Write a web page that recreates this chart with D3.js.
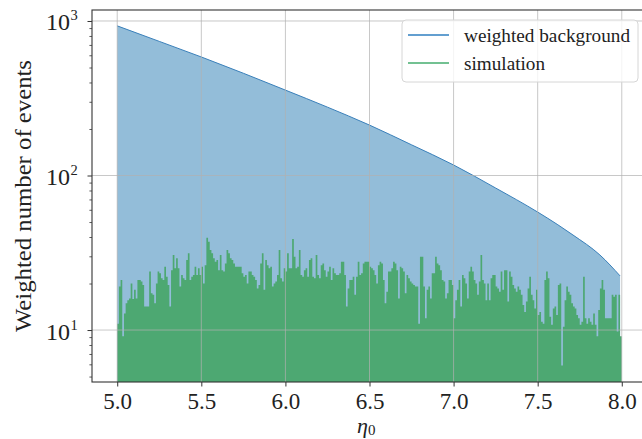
<!DOCTYPE html>
<html>
<head>
<meta charset="utf-8">
<script src="https://cdn.jsdelivr.net/npm/d3@7"></script>
<style>
  body { margin: 0; background: #ffffff; }
</style>
</head>
<body>
<svg id="chart" width="642" height="439"></svg>
<script>
// Histogram of simulated events: 300 equal bins between binStart and binEnd
const binStart = 5.0;
const binEnd = 8.0;
const simulationCounts = [
  11.0, 19.1, 21.1, 9.1, 12.8, 14.9, 15.6, 16.0, 20.0, 15.9,
  18.2, 16.0, 21.1, 21.1, 20.6, 19.6, 14.2, 14.2, 14.2, 23.9,
  17.3, 16.9, 14.9, 20.0, 23.9, 23.3, 21.6, 21.1, 25.7, 22.1,
  19.6, 14.2, 24.4, 30.6, 25.1, 29.1, 25.1, 19.1, 22.7, 21.6,
  21.1, 28.4, 31.4, 21.1, 22.1, 22.7, 25.7, 22.7, 25.1, 22.7,
  25.7, 20.0, 26.3, 39.6, 37.3, 32.9, 31.4, 29.1, 27.7, 28.4,
  24.4, 30.6, 24.4, 23.9, 27.0, 32.9, 31.4, 29.1, 28.4, 27.0,
  25.7, 25.7, 25.7, 25.7, 23.3, 22.1, 22.7, 20.0, 23.9, 23.9,
  22.7, 22.1, 21.1, 18.6, 19.6, 27.0, 31.4, 18.2, 28.4, 26.3,
  25.1, 25.7, 19.1, 20.0, 20.6, 22.7, 32.9, 21.6, 20.6, 25.1,
  23.9, 31.4, 25.1, 25.1, 38.8, 29.8, 25.1, 25.7, 32.9, 22.7,
  22.1, 24.4, 25.1, 22.1, 28.4, 29.1, 22.1, 21.6, 30.6, 22.7,
  21.6, 26.3, 27.0, 24.4, 22.1, 23.9, 25.7, 21.1, 25.1, 23.3,
  22.7, 22.7, 23.3, 27.7, 27.7, 22.7, 14.2, 18.6, 21.1, 21.1,
  22.1, 16.9, 22.1, 27.7, 22.7, 23.3, 27.0, 27.7, 27.7, 27.7,
  25.7, 25.1, 24.4, 22.7, 20.0, 26.3, 27.7, 27.0, 21.1, 14.9,
  17.7, 23.9, 23.9, 25.1, 27.7, 27.0, 24.4, 16.0, 25.7, 25.1,
  23.9, 17.3, 22.7, 21.6, 20.6, 20.0, 19.6, 19.1, 19.1, 11.0,
  29.8, 29.8, 19.1, 11.9, 18.2, 19.1, 16.0, 23.3, 23.3, 29.8,
  27.0, 26.3, 24.4, 21.1, 20.6, 16.0, 17.3, 21.1, 21.1, 19.6,
  11.9, 15.6, 18.2, 21.1, 14.2, 22.7, 21.6, 20.0, 16.0, 23.9,
  25.7, 23.9, 21.1, 20.0, 16.9, 20.6, 30.6, 21.1, 20.0, 15.6,
  20.0, 15.6, 21.6, 22.7, 22.7, 19.1, 18.6, 17.7, 23.9, 18.2,
  24.4, 24.4, 15.3, 23.9, 22.1, 19.6, 18.6, 17.7, 19.1, 18.2,
  16.9, 14.5, 13.1, 15.3, 18.6, 22.1, 16.9, 15.6, 13.8, 18.2,
  12.5, 13.1, 11.3, 11.0, 21.1, 23.9, 21.6, 12.2, 10.8, 13.8,
  14.2, 12.5, 19.6, 20.0, 5.9, 10.5, 15.6, 19.1, 17.7, 16.9,
  14.9, 14.2, 13.8, 12.5, 11.9, 10.8, 11.3, 22.1, 11.9, 11.0,
  11.9, 11.3, 10.8, 12.8, 10.8, 9.1, 13.5, 18.6, 21.1, 18.2,
  11.9, 11.9, 11.9, 11.9, 16.9, 16.4, 16.9, 9.8, 16.9, 9.1
];

// Weighted background expectation, sampled along eta_0
const backgroundEta = [5.0, 5.25, 5.5, 5.75, 6.0, 6.25, 6.5, 6.75, 7.0, 7.25, 7.5, 7.62, 7.71, 7.87, 7.99];
const backgroundWeights = [930, 738, 585, 459, 357, 277, 212, 158, 117, 83, 58, 48, 41.2, 30.6, 22.4];

const xTicks = [5.0, 5.5, 6.0, 6.5, 7.0, 7.5, 8.0];
const yTickExponents = [1, 2, 3];
const legendLabels = ["weighted background", "simulation"];

const colors = {
  backgroundFill: "#93bdd9",
  backgroundLine: "#3a80ba",
  backgroundLegend: "#2f7fc1",
  simulationFill: "#4da872",
  simulationLegend: "#44ad6e",
  grid: "#b0b0b0",
  spine: "#333333",
  text: "#222222"
};
const serif = '"Liberation Serif", "Times New Roman", serif';

const plot = { left: 92, right: 647, top: 10, bottom: 382 };

const svg = d3.select("#chart");

const x = d3.scaleLinear().domain([4.85, 8.15]).range([plot.left, plot.right]);
const y = d3.scaleLog().domain([4.61, 1178]).range([plot.bottom, plot.top]);

svg.append("defs").append("clipPath").attr("id", "plot-area")
  .append("rect")
  .attr("x", plot.left).attr("y", plot.top)
  .attr("width", plot.right - plot.left).attr("height", plot.bottom - plot.top);

const layer = svg.append("g").attr("clip-path", "url(#plot-area)");

// Background fill and its upper edge
const bgPoints = backgroundEta.map((e, i) => ({ eta: e, w: backgroundWeights[i] }));
layer.append("path")
  .datum(bgPoints)
  .attr("fill", colors.backgroundFill)
  .attr("d", d3.area()
    .x(d => x(d.eta))
    .y0(plot.bottom)
    .y1(d => y(d.w))
    .curve(d3.curveMonotoneX));
layer.append("path")
  .datum(bgPoints)
  .attr("fill", "none")
  .attr("stroke", colors.backgroundLine)
  .attr("stroke-width", 1)
  .attr("d", d3.line()
    .x(d => x(d.eta))
    .y(d => y(d.w))
    .curve(d3.curveMonotoneX));

// Simulation histogram drawn as a filled step outline
const nBins = simulationCounts.length;
const binWidth = (binEnd - binStart) / nBins;
const steps = simulationCounts.map((c, i) => ({ edge: binStart + i * binWidth, c }));
steps.push({ edge: binEnd, c: simulationCounts[nBins - 1] });
layer.append("path")
  .datum(steps)
  .attr("fill", colors.simulationFill)
  .attr("d", d3.area()
    .x(d => x(d.edge))
    .y0(plot.bottom)
    .y1(d => y(d.c))
    .curve(d3.curveStepAfter));

// Grid lines on top of the marks
const grid = svg.append("g").attr("stroke", colors.grid).attr("stroke-opacity", 0.7).attr("stroke-width", 1);
grid.selectAll("line.vx").data(xTicks).join("line")
  .attr("x1", d => x(d)).attr("x2", d => x(d))
  .attr("y1", plot.top).attr("y2", plot.bottom);
grid.selectAll("line.hy").data(yTickExponents).join("line")
  .attr("x1", plot.left).attr("x2", plot.right)
  .attr("y1", d => y(Math.pow(10, d))).attr("y2", d => y(Math.pow(10, d)));

// Frame
svg.append("rect")
  .attr("x", plot.left).attr("y", plot.top)
  .attr("width", plot.right - plot.left).attr("height", plot.bottom - plot.top)
  .attr("fill", "none").attr("stroke", colors.spine).attr("stroke-width", 1.1);

// X axis
const xAxis = svg.append("g")
  .attr("transform", `translate(0,${plot.bottom})`)
  .call(d3.axisBottom(x).tickValues(xTicks).tickFormat(d3.format(".1f")).tickSize(4.5).tickPadding(6).tickSizeOuter(0));
xAxis.select(".domain").remove();
xAxis.selectAll(".tick line").attr("stroke", colors.spine).attr("stroke-width", 1);
xAxis.selectAll(".tick text")
  .attr("font-size", 23).attr("fill", colors.text)
  .style("font-family", serif);

// Y axis: major and minor ticks
const minorValues = [];
[1, 10, 100].forEach(dec => {
  for (let k = 2; k <= 9; k++) {
    const v = k * dec;
    if (v > y.domain()[0] && v < y.domain()[1]) minorValues.push(v);
  }
});
const yMajor = svg.append("g")
  .attr("transform", `translate(${plot.left},0)`)
  .call(d3.axisLeft(y).tickValues(yTickExponents.map(e => Math.pow(10, e))).tickFormat("").tickSize(4.5).tickSizeOuter(0));
yMajor.select(".domain").remove();
yMajor.selectAll(".tick line").attr("stroke", colors.spine).attr("stroke-width", 1);
const yMinor = svg.append("g")
  .attr("transform", `translate(${plot.left},0)`)
  .call(d3.axisLeft(y).tickValues(minorValues).tickFormat("").tickSize(2.6).tickSizeOuter(0));
yMinor.select(".domain").remove();
yMinor.selectAll(".tick line").attr("stroke", colors.spine).attr("stroke-width", 0.8);

// Y tick labels as powers of ten
const yLabels = svg.append("g");
yLabels.selectAll("text.base").data(yTickExponents).join("text")
  .attr("class", "base")
  .attr("x", 70).attr("y", d => y(Math.pow(10, d)) + 9.5)
  .attr("text-anchor", "end").attr("font-size", 24)
  .attr("fill", colors.text).style("font-family", serif)
  .text("10");
yLabels.selectAll("text.exp").data(yTickExponents).join("text")
  .attr("class", "exp")
  .attr("x", 70.5).attr("y", d => y(Math.pow(10, d)) - 0.5)
  .attr("text-anchor", "start").attr("font-size", 14.5)
  .attr("fill", colors.text).style("font-family", serif)
  .text(d => d);

// Axis titles
svg.append("text")
  .attr("transform", `translate(31,${(plot.top + plot.bottom) / 2}) rotate(-90)`)
  .attr("text-anchor", "middle")
  .attr("font-size", 23)
  .attr("fill", colors.text).style("font-family", serif)
  .attr("textLength", 272).attr("lengthAdjust", "spacingAndGlyphs")
  .text("Weighted number of events");

const xTitle = svg.append("text")
  .attr("x", 357).attr("y", 433)
  .attr("font-size", 22)
  .attr("fill", colors.text).style("font-family", serif);
xTitle.append("tspan").attr("font-style", "italic").text("η");
xTitle.append("tspan").attr("font-size", 15).attr("dy", 2).text("0");

// Legend
const legend = svg.append("g");
legend.append("rect")
  .attr("x", 402).attr("y", 20).attr("width", 236).attr("height", 62)
  .attr("rx", 4).attr("ry", 4)
  .attr("fill", "#ffffff").attr("fill-opacity", 0.8)
  .attr("stroke", "#d6d6d6").attr("stroke-width", 1);
const legendColors = [colors.backgroundLegend, colors.simulationLegend];
const legendWidths = [166, 81];
const legendRows = legend.selectAll("g.row").data(legendLabels).join("g")
  .attr("class", "row")
  .attr("transform", (d, i) => `translate(0,${35 + i * 28})`);
legendRows.append("line")
  .attr("x1", 408).attr("x2", 449).attr("y1", 0).attr("y2", 0)
  .attr("stroke", (d, i) => legendColors[i]).attr("stroke-width", 1.6);
legendRows.append("text")
  .attr("x", 464).attr("y", 6.5)
  .attr("font-size", 18)
  .attr("fill", colors.text).style("font-family", serif)
  .attr("textLength", (d, i) => legendWidths[i]).attr("lengthAdjust", "spacingAndGlyphs")
  .text(d => d);
</script>
</body>
</html>
